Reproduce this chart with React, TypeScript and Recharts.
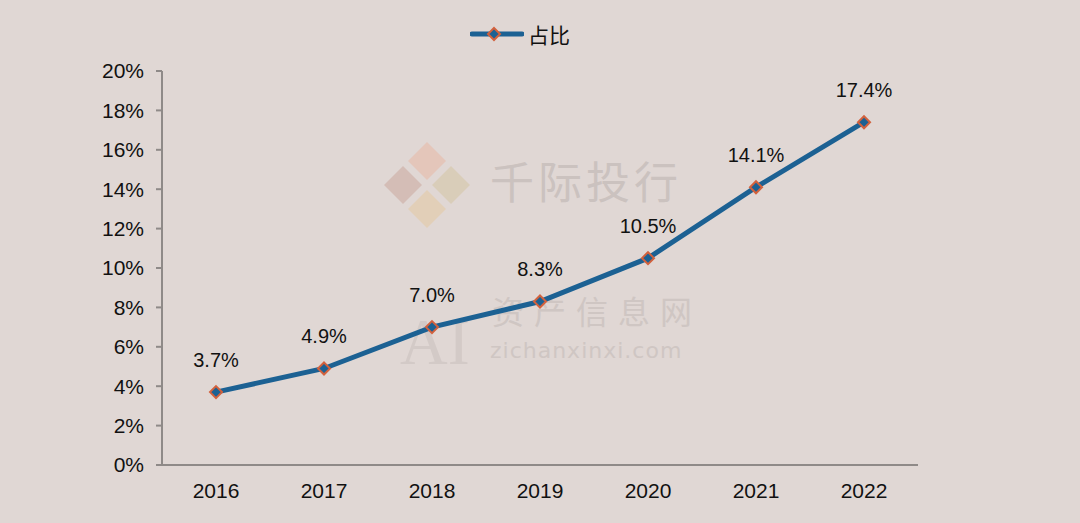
import React from "react";
import { LineChart, Line, XAxis, YAxis, LabelList } from "recharts";

const years = ["2016", "2017", "2018", "2019", "2020", "2021", "2022"];
const shares = [3.7, 4.9, 7.0, 8.3, 10.5, 14.1, 17.4];
const yTicks = [0, 2, 4, 6, 8, 10, 12, 14, 16, 18, 20];
const seriesName = "占比";

const data = years.map((y, i) => ({ year: y, value: shares[i] }));

const LINE = "#1c6193";
const MARK = "#d2613d";
const BG = "#e0d7d4";
const FONT = "'Liberation Sans', Arial, sans-serif";

const Diamond = (props: any) => {
  const { cx, cy } = props;
  if (cx == null || cy == null) return null;
  const r = 6;
  return (
    <path
      d={`M${cx},${cy - r} L${cx + r},${cy} L${cx},${cy + r} L${cx - r},${cy} Z`}
      fill={LINE}
      stroke={MARK}
      strokeWidth={2}
    />
  );
};

export default function App() {
  return (
    <div style={{ position: "absolute", left: 0, top: 0, width: 1080, height: 523, background: BG, overflow: "hidden" }}>
      <div style={{ position: "absolute", left: 0, top: 0, width: 1080, height: 523, pointerEvents: "none" }}>
        <div style={{ position: "absolute", left: 490, top: 150, fontFamily: "'Noto Sans CJK SC', sans-serif", fontSize: 44, color: "#cbc2bf", letterSpacing: 4, lineHeight: "60px" }}>千际投行</div>
        <div style={{ position: "absolute", left: 492, top: 290, fontFamily: "'Noto Sans CJK SC', sans-serif", fontSize: 32, color: "#cfc6c3", letterSpacing: 10, lineHeight: "40px" }}>资产信息网</div>
        <div style={{ position: "absolute", left: 490, top: 337, fontFamily: "'DejaVu Sans', sans-serif", fontSize: 22, color: "#cfc6c3", letterSpacing: 1, lineHeight: "28px" }}>zichanxinxi.com</div>
        <div style={{ position: "absolute", left: 400, top: 314, fontFamily: "'Liberation Serif', serif", fontSize: 66, color: "#d3cac7", lineHeight: "56px" }}>AI</div>
        <svg style={{ position: "absolute", left: 380, top: 138 }} width={95} height={95}>
          <path d="M47,4 L66,23 L47,42 L28,23 Z" fill="#e4c6ba" />
          <path d="M4,47 L23,28 L42,47 L23,66 Z" fill="#d4bdb6" />
          <path d="M90,47 L71,28 L52,47 L71,66 Z" fill="#d9cdb9" />
          <path d="M47,90 L66,71 L47,52 L28,71 Z" fill="#e2cfb8" />
        </svg>
      </div>
      <div style={{ position: "absolute", left: 470, top: 21, display: "flex", alignItems: "center" }}>
        <svg width={54} height={20} style={{ marginRight: 4 }}>
          <line x1={2} y1={10} x2={52} y2={10} stroke={LINE} strokeWidth={5} strokeLinecap="round" />
          <path d="M24,4 L30,10 L24,16 L18,10 Z" fill={LINE} stroke={MARK} strokeWidth={2} />
        </svg>
        <span style={{ fontFamily: "'Noto Sans CJK SC', sans-serif", fontSize: 21, color: "#111", lineHeight: "26px" }}>
          {seriesName}
        </span>
      </div>
      <div style={{ position: "absolute", left: 0, top: 0 }}>
        <LineChart width={1080} height={523} data={data} margin={{ top: 71, right: 162, bottom: 28, left: 102 }}>
          <XAxis
            dataKey="year"
            axisLine={{ stroke: "#8f8a88", strokeWidth: 2 }}
            tickLine={false}
            tick={{ fill: "#111", fontSize: 21, fontFamily: FONT }}
            tickMargin={12}
            height={30}
            padding={{ left: 54, right: 54 }}
          />
          <YAxis
            domain={[0, 20]}
            ticks={yTicks}
            tickFormatter={(v: number) => `${v}%`}
            axisLine={{ stroke: "#8f8a88", strokeWidth: 2 }}
            tickLine={{ stroke: "#8f8a88", strokeWidth: 2 }}
            tickSize={6}
            tickMargin={12}
            tick={{ fill: "#111", fontSize: 21, fontFamily: FONT }}
            width={60}
            interval={0}
          />
          <Line
            dataKey="value"
            name={seriesName}
            stroke={LINE}
            strokeWidth={5}
            dot={<Diamond />}
            activeDot={false}
            isAnimationActive={false}
          >
            <LabelList
              dataKey="value"
              position="top"
              offset={25}
              formatter={(v: number) => `${v.toFixed(1)}%`}
              style={{ fill: "#111", fontSize: 20, fontFamily: FONT }}
            />
          </Line>
        </LineChart>
      </div>
    </div>
  );
}
